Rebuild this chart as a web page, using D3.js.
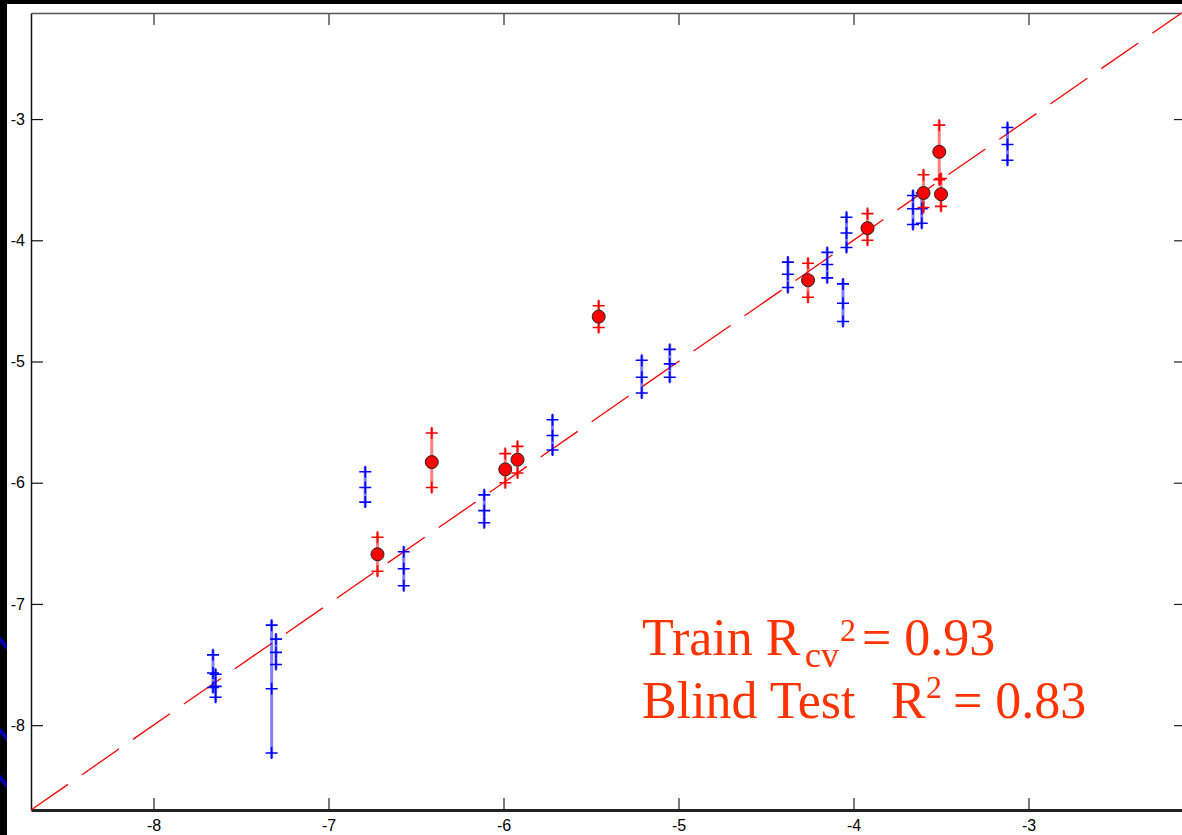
<!DOCTYPE html>
<html>
<head>
<meta charset="utf-8">
<title>Observed vs predicted</title>
<script src="https://d3js.org/d3.v7.min.js"></script>
<style>
  body { margin: 0; background: #000; }
  svg { display: block; }
</style>
</head>
<body>
<svg width="1182" height="835"></svg>
<script>
// training compounds (blue): observed value and replicate predictions
var trainX = [-7.66, -7.645, -7.325, -7.30, -6.79, -6.57, -6.11, -5.72, -5.21, -5.05,
              -4.375, -4.15, -4.06, -4.04, -3.66, -3.61, -3.12];
var trainPred = [
  [-7.42, -7.57, -7.69],
  [-7.58, -7.68, -7.77],
  [-7.175, -7.70, -8.23],
  [-7.29, -7.40, -7.50],
  [-5.91, -6.04, -6.16],
  [-6.57, -6.71, -6.85],
  [-6.10, -6.23, -6.33],
  [-5.48, -5.61, -5.73],
  [-4.99, -5.13, -5.26],
  [-4.90, -5.02, -5.13],
  [-4.18, -4.28, -4.39],
  [-4.10, -4.20, -4.31],
  [-4.36, -4.52, -4.67],
  [-3.81, -3.94, -4.06],
  [-3.63, -3.74, -3.87],
  [-3.61, -3.74, -3.86],
  [-3.07, -3.21, -3.34]
];

// blind test compounds (red): observed, mean prediction, replicate predictions
var testX    = [-6.72, -6.41, -5.99, -5.92, -5.456, -4.26, -3.92, -3.60, -3.51, -3.50];
var testMean = [-6.59, -5.83, -5.89, -5.81, -4.63, -4.33, -3.90, -3.61, -3.27, -3.62];
var testPred = [
  [-6.45, -6.73],
  [-5.59, -6.04],
  [-5.76, -6.00],
  [-5.70, -5.92],
  [-4.54, -4.72],
  [-4.19, -4.47],
  [-3.78, -4.00],
  [-3.46, -3.73],
  [-3.05, -3.50],
  [-3.49, -3.72]
];

var tickVals = [-8, -7, -6, -5, -4, -3];
var xDomain = [-8.7, -2.1];
var yDomain = [-8.7, -2.125];

var svg = d3.select("svg");

// slide background
svg.append("rect").attr("x", 0).attr("y", 0).attr("width", 1182).attr("height", 835).attr("fill", "#000");
[640, 731, 778].forEach(function(y0) {
  svg.append("line").attr("x1", -2).attr("y1", y0 - 3).attr("x2", 9).attr("y2", y0 + 10)
    .attr("stroke", "#0000b0").attr("stroke-width", 4);
});
svg.append("rect").attr("x", 7).attr("y", 4).attr("width", 1180).attr("height", 835).attr("fill", "#fff");

var x = d3.scaleLinear().domain(xDomain).range([31, 1186]);
var y = d3.scaleLinear().domain(yDomain).range([810, 13]);
var fmt = function(d) { return String(d); };

// axes (ticks inside)
var gTop = svg.append("g").attr("transform", "translate(0," + y(yDomain[1]) + ")")
  .call(d3.axisTop(x).tickValues(tickVals).tickSize(-12).tickSizeOuter(0).tickFormat(""));
gTop.select(".domain").attr("stroke", "#555").attr("stroke-width", 1.5);
gTop.selectAll(".tick line").attr("stroke", "#555").attr("stroke-width", 1.5);

var gRight = svg.append("g").attr("transform", "translate(" + x(xDomain[1]) + ",0)")
  .call(d3.axisRight(y).tickValues(tickVals).tickSize(-12).tickSizeOuter(0).tickFormat(""));
gRight.selectAll(".tick line").attr("stroke", "#222").attr("stroke-width", 1.2);

var gBottom = svg.append("g").attr("transform", "translate(0," + y(yDomain[0]) + ")")
  .call(d3.axisBottom(x).tickValues(tickVals).tickSize(-12).tickSizeOuter(0).tickPadding(10).tickFormat(fmt));
gBottom.select(".domain").attr("stroke", "#222").attr("stroke-width", 3);
gBottom.selectAll(".tick line").attr("stroke", "#222").attr("stroke-width", 1.2);
gBottom.selectAll("text").attr("font-family", "Liberation Sans, Arial, sans-serif")
  .attr("font-size", 16).attr("fill", "#000");

var gLeft = svg.append("g").attr("transform", "translate(" + x(xDomain[0]) + ",0)")
  .call(d3.axisLeft(y).tickValues(tickVals).tickSize(-12).tickSizeOuter(0).tickPadding(6).tickFormat(fmt));
gLeft.select(".domain").attr("stroke", "#111").attr("stroke-width", 1.5);
gLeft.selectAll(".tick line").attr("stroke", "#111").attr("stroke-width", 1.2);
gLeft.selectAll("text").attr("font-family", "Liberation Sans, Arial, sans-serif")
  .attr("font-size", 16).attr("fill", "#000");

// identity line
svg.append("line")
  .attr("x1", x(-8.7)).attr("y1", y(-8.7))
  .attr("x2", x(-2.125)).attr("y2", y(-2.125))
  .attr("stroke", "#ff0000").attr("stroke-width", 1.3)
  .attr("stroke-dasharray", "45,17");

function cross(cx, cy) {
  return "M" + (cx - 6) + "," + cy + "H" + (cx + 6) + "M" + cx + "," + (cy - 6) + "V" + (cy + 6);
}

function drawGroup(xs, preds, color) {
  var g = svg.append("g");
  g.selectAll("line.bar").data(xs).enter().append("line")
    .attr("class", "bar")
    .attr("x1", function(d) { return x(d); })
    .attr("x2", function(d) { return x(d); })
    .attr("y1", function(d, i) { return y(d3.max(preds[i])) - 5; })
    .attr("y2", function(d, i) { return y(d3.min(preds[i])) + 5; })
    .attr("stroke", color).attr("stroke-opacity", 0.5).attr("stroke-width", 3);
  xs.forEach(function(xv, i) {
    g.selectAll(null).data(preds[i]).enter().append("path")
      .attr("d", function(p) { return cross(x(xv), y(p)); })
      .attr("stroke", color).attr("stroke-width", 1.6).attr("fill", "none");
  });
}

drawGroup(trainX, trainPred, "#0000ff");
drawGroup(testX, testPred, "#ff0000");

svg.append("g").selectAll("circle").data(testX).enter().append("circle")
  .attr("cx", function(d) { return x(d); })
  .attr("cy", function(d, i) { return y(testMean[i]); })
  .attr("r", 6.5)
  .attr("fill", "#ff0000").attr("stroke", "#222").attr("stroke-width", 1);

// statistics annotation
var note = svg.append("text")
  .attr("font-family", "Liberation Serif, Times New Roman, serif")
  .attr("fill", "#ff3300").attr("font-size", 52);
note.append("tspan").attr("x", 642).attr("y", 655).text("Train R");
note.append("tspan").attr("x", 805).attr("y", 667).attr("font-size", 36).text("cv");
note.append("tspan").attr("x", 840).attr("y", 641).attr("font-size", 32).text("2");
note.append("tspan").attr("x", 862).attr("y", 655).text("= 0.93");
note.append("tspan").attr("x", 642).attr("y", 718).text("Blind Test");
note.append("tspan").attr("x", 891).attr("y", 718).text("R");
note.append("tspan").attr("x", 926).attr("y", 698).attr("font-size", 32).text("2");
note.append("tspan").attr("x", 953).attr("y", 718).text("= 0.83");
</script>
</body>
</html>
